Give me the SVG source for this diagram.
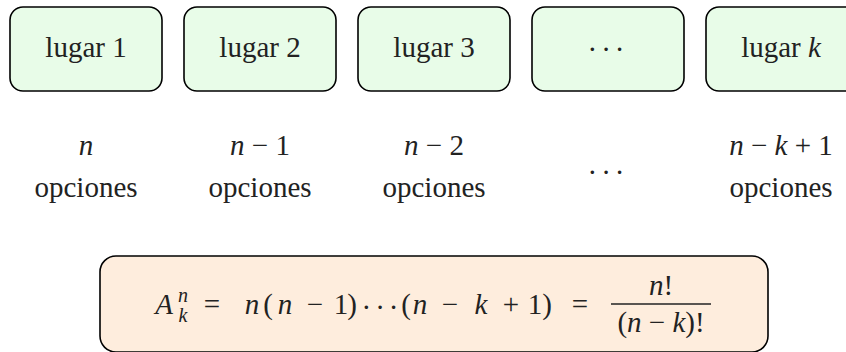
<svg xmlns="http://www.w3.org/2000/svg" width="846" height="352" viewBox="0 0 846 352">
<rect width="846" height="352" fill="#fff"/>
<g fill="#e8fce8" stroke="#000" stroke-width="1.6">
<rect id="box1" x="10" y="7" width="152" height="84" rx="13"/>
<rect id="box2" x="184" y="7" width="152" height="84" rx="13"/>
<rect id="box3" x="358" y="7" width="152" height="84" rx="13"/>
<rect id="box4" x="532" y="7" width="152" height="84" rx="13"/>
<rect id="box5" x="706" y="7" width="152" height="84" rx="13"/>
</g>
<g id="connectors"></g>
<g id="lugar1"><text font-family="Liberation Serif" font-size="29" fill="#222" text-anchor="middle" x="86" y="57">lugar 1</text></g>
<g id="lugar2"><text font-family="Liberation Serif" font-size="29" fill="#222" text-anchor="middle" x="260" y="57">lugar 2</text></g>
<g id="lugar3"><text font-family="Liberation Serif" font-size="29" fill="#222" text-anchor="middle" x="434" y="57">lugar 3</text></g>
<g id="lugardots"><text font-family="Liberation Serif" font-size="29" fill="#222" text-anchor="middle" letter-spacing="4" x="608" y="59">···</text></g>
<g id="lugark"><text font-family="Liberation Serif" font-size="29" fill="#222" text-anchor="middle" x="781" y="57">lugar <tspan font-style="italic">k</tspan></text></g>
<g id="opt1"><text font-family="Liberation Serif" font-size="29" fill="#222" text-anchor="middle" font-style="italic" x="86" y="155">n</text><text font-family="Liberation Serif" font-size="29" fill="#222" text-anchor="middle" x="86" y="197">opciones</text></g>
<g id="opt2"><text font-family="Liberation Serif" font-size="29" fill="#222" text-anchor="middle" x="260" y="155"><tspan font-style="italic">n</tspan> − 1</text><text font-family="Liberation Serif" font-size="29" fill="#222" text-anchor="middle" x="260" y="197">opciones</text></g>
<g id="opt3"><text font-family="Liberation Serif" font-size="29" fill="#222" text-anchor="middle" x="434" y="155"><tspan font-style="italic">n</tspan> − 2</text><text font-family="Liberation Serif" font-size="29" fill="#222" text-anchor="middle" x="434" y="197">opciones</text></g>
<g id="optdots"><text font-family="Liberation Serif" font-size="29" fill="#222" text-anchor="middle" letter-spacing="4" x="608" y="182">···</text></g>
<g id="optk"><text font-family="Liberation Serif" font-size="29" fill="#222" text-anchor="middle" x="781" y="155"><tspan font-style="italic">n</tspan> − <tspan font-style="italic">k</tspan> + 1</text><text font-family="Liberation Serif" font-size="29" fill="#222" text-anchor="middle" x="781" y="197">opciones</text></g>
<g id="formula">
<rect x="100" y="256" width="668" height="96" rx="16" fill="#feeddd" stroke="#000" stroke-width="1.6"/>
<text font-family="Liberation Serif" font-size="29" fill="#222" text-anchor="middle" font-style="italic" x="164" y="314">A</text>
<text font-family="Liberation Serif" font-size="20" fill="#222" text-anchor="middle" font-style="italic" x="183" y="302">n</text>
<text font-family="Liberation Serif" font-size="20" fill="#222" text-anchor="middle" font-style="italic" x="183" y="322">k</text>
<text font-family="Liberation Serif" font-size="29" fill="#222" text-anchor="middle" x="212" y="314">=</text>
<text font-family="Liberation Serif" font-size="29" fill="#222" text-anchor="middle" y="314"><tspan x="252" font-style="italic">n</tspan><tspan x="268">(</tspan><tspan x="285" font-style="italic">n</tspan><tspan x="315">−</tspan><tspan x="341">1</tspan><tspan x="352">)</tspan><tspan x="382" letter-spacing="4" dy="3">···</tspan><tspan x="406" dy="-3">(</tspan><tspan x="420" font-style="italic">n</tspan><tspan x="450">−</tspan><tspan x="481" font-style="italic">k</tspan><tspan x="511">+</tspan><tspan x="535">1</tspan><tspan x="547">)</tspan></text>
<text font-family="Liberation Serif" font-size="29" fill="#222" text-anchor="middle" x="580" y="314">=</text>
<text font-family="Liberation Serif" font-size="29" fill="#222" text-anchor="middle" x="661" y="295"><tspan font-style="italic">n</tspan>!</text>
<line x1="611" y1="304" x2="711" y2="304" stroke="#222" stroke-width="1.3"/>
<text font-family="Liberation Serif" font-size="29" fill="#222" text-anchor="middle" x="661" y="332">(<tspan font-style="italic">n</tspan> − <tspan font-style="italic">k</tspan>)!</text>
</g>
</svg>
